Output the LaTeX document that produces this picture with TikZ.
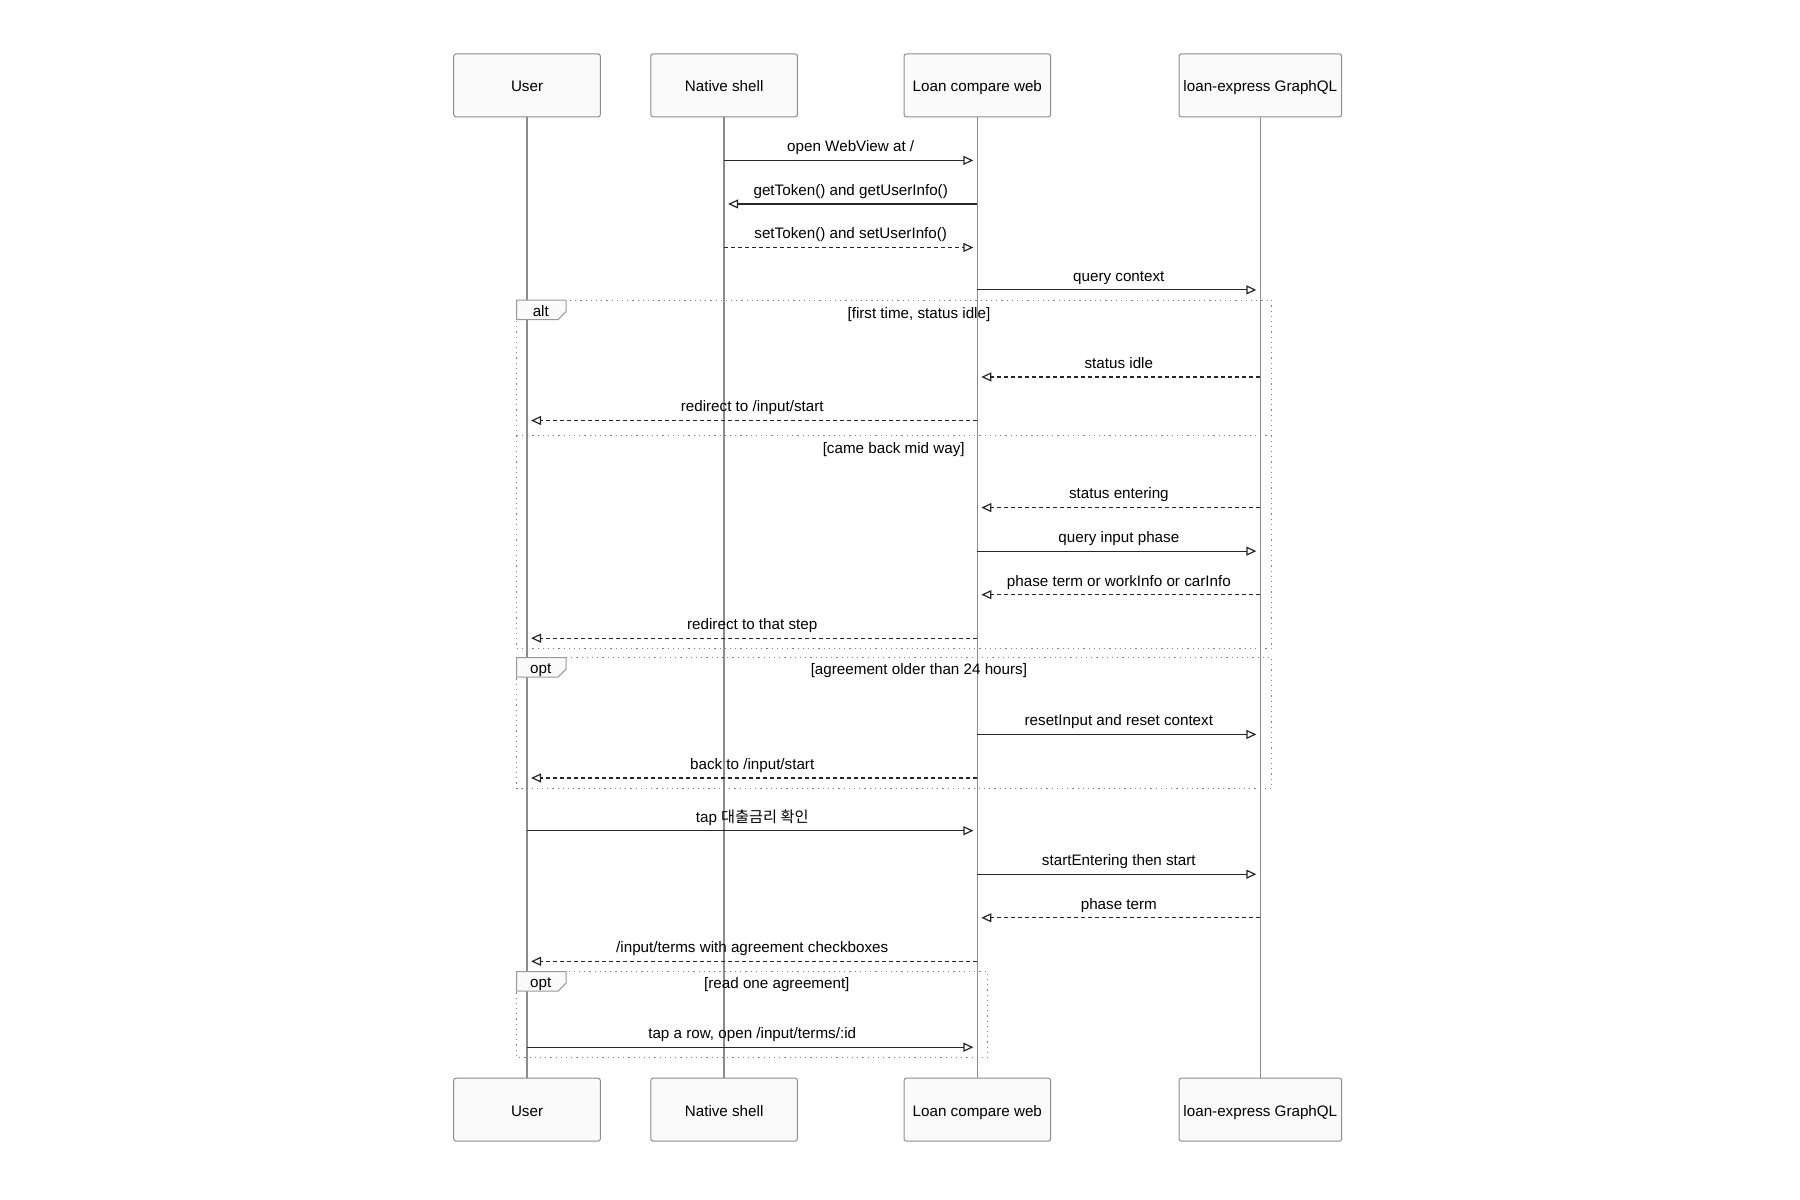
\documentclass[tikz,border=0pt]{standalone}
\usepackage{fontspec}
\setmainfont{Liberation Sans}
\newfontfamily\kr{Noto Sans CJK KR}
\usetikzlibrary{arrows.meta}
\begin{document}
\begin{tikzpicture}[x=0.573pt,y=-0.573pt,font=\fontsize{7.6}{9}\selectfont,
 actor/.style={draw=black!45,fill=black!2,rounded corners=1.2pt,line width=0.5pt,minimum height=31.5pt,inner sep=0pt,text height=1.6ex,text depth=0.4ex},
 life/.style={draw=black!45,line width=0.8pt},
 msg/.style={draw=black!85,line width=0.6pt,-{Triangle[open,length=5pt,width=4.5pt]},shorten >=2pt},
 ret/.style={msg,dash pattern=on 2pt off 1.5pt},
 lbl/.style={inner sep=1pt,anchor=base},
 frame/.style={draw=black!50,dotted,line width=0.6pt},
 tag/.style={draw=black!40,fill=black!2,line width=0.5pt}]
\useasboundingbox (0,0) rectangle (1571,1047);
% actors
\foreach \n/\x/\w/\t in {U/460/128/User,N/632/128/Native shell,L/853/128/Loan compare web,G/1100/142/loan-express GraphQL}{
  \node[actor,minimum width=\w*0.573pt] (t\n) at (\x,74.5) {\t};
  \node[actor,minimum width=\w*0.573pt] (b\n) at (\x,968.5) {\t};
  \draw[life] (t\n) -- (b\n);
}
% frames
\draw[frame] (451,262) rectangle (1110,566);
\draw[frame] (451,380) -- (1110,380);
\draw[frame] (451,574) rectangle (1110,688);
\draw[frame] (451,848) rectangle (862,923);
\foreach \y/\t in {262/alt,574/opt,848/opt}{
  \draw[tag] (451,\y) -- (494,\y) -- (494,\y+10) -- (487,\y+17) -- (451,\y+17) -- cycle;
  \node[lbl] at (472,\y+14) {\t};
}
\node[lbl] at (802,278) {[first time, status idle]};
\node[lbl] at (780,396) {[came back mid way]};
\node[lbl] at (802,589) {[agreement older than 24 hours]};
\node[lbl] at (678,863) {[read one agreement]};
% messages
\newcommand\msgline[5]{%
  \draw[#1] (t#2|-0,#4) -- (t#3|-0,#4);
  \path (t#2|-0,#4) -- node[lbl,pos=0.5,yshift=4.3pt] {#5} (t#3|-0,#4);}
\msgline{msg}{N}{L}{140}{open WebView at /}
\msgline{msg}{L}{N}{178}{getToken() and getUserInfo()}
\msgline{ret}{N}{L}{216}{setToken() and setUserInfo()}
\msgline{msg}{L}{G}{253}{query context}
\msgline{ret}{G}{L}{329}{status idle}
\msgline{ret}{L}{U}{367}{redirect to /input/start}
\msgline{ret}{G}{L}{443}{status entering}
\msgline{msg}{L}{G}{481}{query input phase}
\msgline{ret}{G}{L}{519}{phase term or workInfo or carInfo}
\msgline{ret}{L}{U}{557}{redirect to that step}
\msgline{msg}{L}{G}{641}{resetInput and reset context}
\msgline{ret}{L}{U}{679}{back to /input/start}
\msgline{msg}{U}{L}{725}{tap {\kr 대출금리 확인}}
\msgline{msg}{L}{G}{763}{startEntering then start}
\msgline{ret}{G}{L}{801}{phase term}
\msgline{ret}{L}{U}{839}{/input/terms with agreement checkboxes}
\msgline{msg}{U}{L}{914}{tap a row, open /input/terms/:id}
\end{tikzpicture}
\end{document}
